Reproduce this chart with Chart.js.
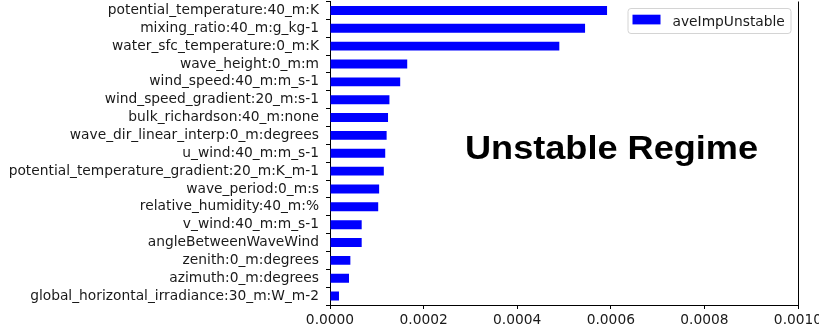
<!DOCTYPE html>
<html>
<head>
<meta charset="utf-8">
<script src="https://cdn.jsdelivr.net/npm/chart.js@4.4.0/dist/chart.umd.min.js"></script>
<style>
  html, body { margin: 0; padding: 0; background: #fff; }
</style>
</head>
<body>
<canvas id="chart" width="819" height="333"></canvas>
<script>
// feature importances for the unstable regime, largest first
const features = [
  'potential_temperature:40_m:K',
  'mixing_ratio:40_m:g_kg-1',
  'water_sfc_temperature:0_m:K',
  'wave_height:0_m:m',
  'wind_speed:40_m:m_s-1',
  'wind_speed_gradient:20_m:s-1',
  'bulk_richardson:40_m:none',
  'wave_dir_linear_interp:0_m:degrees',
  'u_wind:40_m:m_s-1',
  'potential_temperature_gradient:20_m:K_m-1',
  'wave_period:0_m:s',
  'relative_humidity:40_m:%',
  'v_wind:40_m:m_s-1',
  'angleBetweenWaveWind',
  'zenith:0_m:degrees',
  'azimuth:0_m:degrees',
  'global_horizontal_irradiance:30_m:W_m-2'
];
const aveImpUnstable = [
  0.000592, 0.000545, 0.000490, 0.000165, 0.000150, 0.000127, 0.000124,
  0.000121, 0.000118, 0.000115, 0.000105, 0.000103, 0.0000677, 0.0000677,
  0.0000435, 0.0000406, 0.0000192
];
const xTicks = [0, 0.0002, 0.0004, 0.0006, 0.0008, 0.0010];
const seriesName = 'aveImpUnstable';
const regimeLabel = 'Unstable Regime';

const tickFont = { family: 'DejaVu Sans', size: 13.8 };
const ink = '#1a1a1a';

// drop the half-label padding chart.js reserves so the frame sits where we put it
function noPad(s) {
  s.paddingTop = 0; s.paddingBottom = 0;
  s.paddingLeft = 0; s.paddingRight = 0;
}

// matplotlib-style frame: right spine plus boxed legend and the regime caption
const extras = {
  id: 'extras',
  afterDraw(chart) {
    const ctx = chart.ctx;
    const area = chart.chartArea;
    ctx.save();
    ctx.strokeStyle = '#000';
    ctx.lineWidth = 1;
    ctx.beginPath();
    ctx.moveTo(Math.round(area.right) + 0.5, area.top);
    ctx.lineTo(Math.round(area.right) + 0.5, area.bottom);
    ctx.stroke();

    // legend box
    const ds = chart.data.datasets[0];
    const bx = 628, by = 8.5, bw = 163, bh = 25, r = 3;
    ctx.beginPath();
    ctx.roundRect(bx, by, bw, bh, r);
    ctx.fillStyle = 'rgba(255,255,255,0.8)';
    ctx.fill();
    ctx.strokeStyle = '#d4d4d4';
    ctx.stroke();
    ctx.fillStyle = ds.backgroundColor;
    ctx.fillRect(632.5, 14.7, 28, 9.7);
    ctx.fillStyle = ink;
    ctx.font = '13.8px "DejaVu Sans"';
    ctx.textBaseline = 'alphabetic';
    ctx.textAlign = 'left';
    ctx.fillText(ds.label, 672.5, 25.5);

    // caption, slightly widened like the rest of the figure
    ctx.font = 'bold 34px "Liberation Sans", Arial, sans-serif';
    ctx.fillStyle = '#000';
    const w = ctx.measureText(regimeLabel).width;
    ctx.translate(465, 159);
    ctx.scale(293 / w, 1);
    ctx.fillText(regimeLabel, 0, 0);
    ctx.restore();
  }
};

new Chart(document.getElementById('chart'), {
  type: 'bar',
  data: {
    labels: features,
    datasets: [{
      label: seriesName,
      data: aveImpUnstable,
      backgroundColor: '#0000ff',
      borderWidth: 0,
      barPercentage: 0.5,
      categoryPercentage: 1.0
    }]
  },
  options: {
    indexAxis: 'y',
    responsive: false,
    animation: false,
    devicePixelRatio: 1,
    layout: { padding: { top: 1.5, right: 21, left: 0, bottom: 0 } },
    plugins: {
      legend: { display: false },
      tooltip: { enabled: false }
    },
    scales: {
      x: {
        type: 'linear',
        min: 0,
        max: 0.001,
        afterBuildTicks: s => { s.ticks = xTicks.map(v => ({ value: v })); },
        afterFit: s => { s.height = 28; noPad(s); },
        grid: { drawOnChartArea: false, color: '#000', tickLength: 4 },
        border: { color: '#000', width: 1 },
        ticks: {
          font: tickFont,
          color: ink,
          padding: 3,
          maxRotation: 0,
          callback: v => v.toFixed(4)
        }
      },
      y: {
        type: 'category',
        afterFit: s => { s.width = 330; noPad(s); },
        grid: { drawOnChartArea: false, color: '#000', tickLength: 4 },
        border: { color: '#000', width: 1 },
        ticks: { font: tickFont, color: ink, padding: 7, autoSkip: false }
      }
    }
  },
  plugins: [extras]
});
</script>
</body>
</html>
